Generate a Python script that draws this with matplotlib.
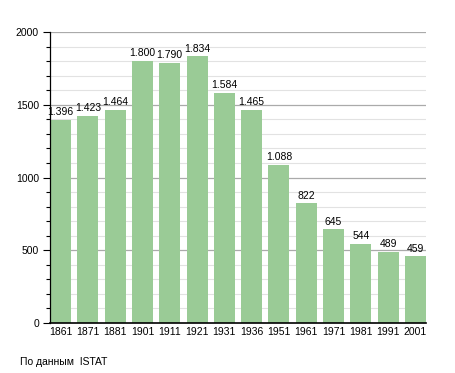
import numpy as np
import matplotlib.pyplot as plt

plt.rcParams['font.family'] = ['Liberation Sans', 'DejaVu Sans']

years = ["1861", "1871", "1881", "1901", "1911", "1921", "1931",
         "1936", "1951", "1961", "1971", "1981", "1991", "2001"]
population = [1396, 1423, 1464, 1800, 1790, 1834, 1584,
              1465, 1088, 822, 645, 544, 489, 459]
value_labels = ["1.396", "1.423", "1.464", "1.800", "1.790", "1.834", "1.584",
                "1.465", "1.088", "822", "645", "544", "489", "459"]

fig = plt.figure(figsize=(4.55, 3.73), dpi=100)
ax = fig.add_axes([50 / 455, 50 / 373, 376 / 455, 291 / 373])

w = 0.77
x = np.arange(len(years))

# grid: light every 100, darker every 500
for v in range(100, 2001, 100):
    if v % 500 == 0:
        ax.axhline(v, color="#aaaaaa", linewidth=0.9, zorder=0)
    else:
        ax.axhline(v, color="#e2e2e2", linewidth=0.8, zorder=0)

ax.bar(x, population, width=w, color="#9acb96", zorder=2)

for xi, v, lab in zip(x, population, value_labels):
    ax.text(xi, v + 18, lab, ha="center", va="bottom", fontsize=7.5, zorder=3)

ax.set_xlim(-w / 2, len(years) - 1 + w / 2)
ax.set_ylim(0, 2000)
ax.set_xticks(x)
ax.set_xticklabels(years, fontsize=7.5)
ax.set_yticks([0, 500, 1000, 1500, 2000])
ax.set_yticklabels(["0", "500", "1000", "1500", "2000"], fontsize=7.5)
ax.set_yticks(np.arange(0, 2001, 100), minor=True)
ax.tick_params(axis="x", length=0, pad=3)
ax.tick_params(axis="y", which="major", length=5, width=0.8, pad=3)
ax.tick_params(axis="y", which="minor", length=3, width=0.8)

for side in ["top", "right"]:
    ax.spines[side].set_visible(False)
ax.spines["left"].set_linewidth(0.9)
ax.spines["bottom"].set_linewidth(1.2)

fig.text(20 / 455, 1 - 362 / 373, "По данным  ISTAT", fontsize=7.5,
         ha="left", va="center")

fig.savefig("out.png", dpi=100)
